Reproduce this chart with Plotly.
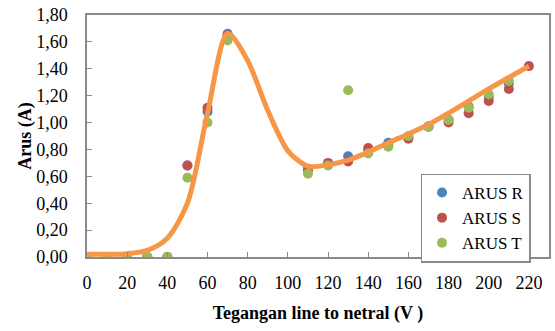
import plotly.graph_objects as go

# Data
volt = [0, 10, 20, 30, 40, 50, 60, 70, 110, 120, 130, 140, 150, 160, 170, 180, 190, 200, 210, 220]
arus_r = [0.00, 0.00, 0.00, 0.00, 0.00, 0.68, 1.08, 1.66, 0.65, 0.69, 0.75, 0.79, 0.85, 0.89, 0.97, 1.02, 1.12, 1.19, 1.29, None]
arus_s = [0.00, 0.00, 0.00, 0.00, 0.00, 0.68, 1.11, 1.65, 0.65, 0.70, 0.71, 0.81, 0.83, 0.88, 0.97, 1.00, 1.07, 1.16, 1.25, 1.42]
arus_t = [0.00, 0.00, 0.00, 0.00, 0.00, 0.59, 1.00, 1.61, 0.62, 0.68, 1.24, 0.77, 0.82, 0.90, 0.97, 1.02, 1.11, 1.21, 1.31, None]

curve_x = [0, 10, 20, 30, 40, 50, 60, 70, 80, 90, 100, 110, 120, 130, 140, 150, 160, 170, 180, 190, 200, 210, 220]
curve_y = [0.02, 0.02, 0.025, 0.05, 0.14, 0.40, 1.07, 1.665, 1.46, 1.09, 0.79, 0.675, 0.685, 0.72, 0.78, 0.85, 0.915, 0.985, 1.07, 1.16, 1.25, 1.335, 1.42]

x_ticks = list(range(0, 221, 20))
y_ticks = [0.0, 0.2, 0.4, 0.6, 0.8, 1.0, 1.2, 1.4, 1.6, 1.8]

FONT = "Liberation Serif"
GRAY = "#8a8a8a"

fig = go.Figure()
fig.add_trace(go.Scatter(x=volt, y=arus_r, mode="markers", name="ARUS R",
                         marker=dict(color="#4F81BD", size=10)))
fig.add_trace(go.Scatter(x=volt, y=arus_s, mode="markers", name="ARUS S",
                         marker=dict(color="#C0504D", size=10)))
fig.add_trace(go.Scatter(x=volt, y=arus_t, mode="markers", name="ARUS T",
                         marker=dict(color="#9BBB59", size=10)))
fig.add_trace(go.Scatter(x=curve_x, y=curve_y, mode="lines", showlegend=False,
                         line=dict(color="#F79646", width=5, shape="spline", smoothing=0.8),
                         hoverinfo="skip"))

fig.update_layout(
    width=555, height=331,
    margin=dict(l=87, r=6, t=15, b=74),
    paper_bgcolor="white", plot_bgcolor="white",
    separators=",.",
    font=dict(family=FONT, size=18, color="black"),
    legend=dict(x=0.96, y=0.345, xanchor="right", yanchor="top",
                bordercolor=GRAY, borderwidth=1.5, bgcolor="white",
                font=dict(family=FONT, size=17, color="black"), itemwidth=30, tracegroupgap=0),
    xaxis=dict(range=[0, 230], tickvals=x_ticks, ticks="inside", ticklen=5,
               tickcolor=GRAY, showgrid=False, zeroline=False, automargin=False,
               showline=True, linecolor=GRAY, linewidth=1.5, mirror=True,
               ticklabelstandoff=9, tickfont=dict(family=FONT, size=18, color="black"),
               title=dict(text="<b>Tegangan line to netral (V )</b>", standoff=14,
                          font=dict(family=FONT, size=18))),
    yaxis=dict(range=[0, 1.8], tickvals=y_ticks, tickformat=".2f", ticks="inside", ticklen=5,
               tickcolor=GRAY, showgrid=False, zeroline=False, automargin=False,
               showline=True, linecolor=GRAY, linewidth=1.5, mirror=True,
               ticklabelstandoff=14, tickfont=dict(family=FONT, size=18, color="black"),
               title=dict(text="<b>Arus (A)</b>", standoff=0, font=dict(family=FONT, size=18))),
)

fig.write_html("out.html", config={"displayModeBar": False},
               post_script="document.body.style.margin='0';")
